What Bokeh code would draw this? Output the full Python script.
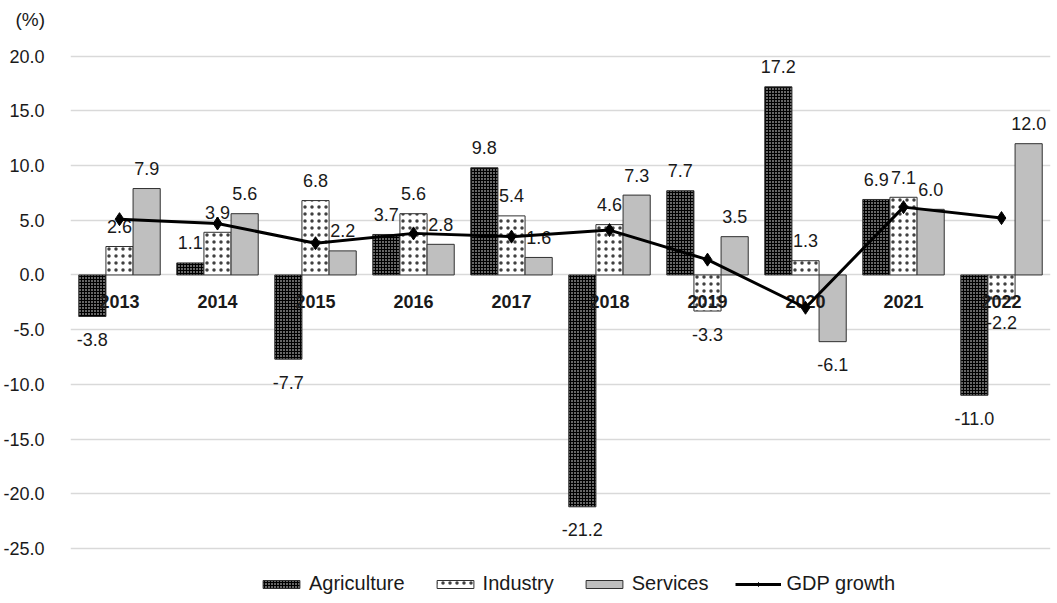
from bokeh.plotting import figure
from bokeh.models import (FactorRange, Range1d, ColumnDataSource, FixedTicker,
                          NumeralTickFormatter, Legend, LegendItem)
from bokeh.transform import dodge
from bokeh.core.properties import value
from bokeh.embed import file_html
from bokeh.resources import INLINE

years = ["2013", "2014", "2015", "2016", "2017", "2018", "2019", "2020", "2021", "2022"]
agriculture = [-3.8, 1.1, -7.7, 3.7, 9.8, -21.2, 7.7, 17.2, 6.9, -11.0]
industry = [2.6, 3.9, 6.8, 5.6, 5.4, 4.6, -3.3, 1.3, 7.1, -2.2]
services = [7.9, 5.6, 2.2, 2.8, 1.6, 7.3, 3.5, -6.1, 6.0, 12.0]
gdp_growth = [5.1, 4.7, 2.9, 3.8, 3.5, 4.1, 1.4, -3.0, 6.2, 5.2]
y_ticks = [-25, -20, -15, -10, -5, 0, 5, 10, 15, 20]

FONT = "Liberation Sans"
BW = 0.277


def fmt(v):
    return f"{v:.1f}"


def offs(vals):
    return [-20 if v >= 0 else 23 for v in vals]


src = ColumnDataSource(dict(
    year=years, agri=agriculture, ind=industry, serv=services, gdp=gdp_growth,
    agri_t=[fmt(v) for v in agriculture], ind_t=[fmt(v) for v in industry],
    serv_t=[fmt(v) for v in services],
    agri_o=offs(agriculture), ind_o=offs(industry), serv_o=offs(services),
    zero=[0] * len(years),
))

p = figure(width=1057, height=603, x_range=FactorRange(*years),
           y_range=Range1d(-30.04, 21.8), output_backend="svg", toolbar_location=None,
           min_border_left=70, min_border_right=7, min_border_top=0, min_border_bottom=0,
           outline_line_color=None, background_fill_color="white")

p.title.text = "(%)"
p.title.align = "left"
p.title.offset = -55
p.title.text_font = FONT
p.title.text_font_size = "19px"
p.title.text_font_style = "normal"
p.title.text_color = "#1a1a1a"
p.title.standoff = 13

p.xaxis.visible = False
p.xgrid.grid_line_color = None
p.ygrid.grid_line_color = "#d9d9d9"
p.ygrid.grid_line_width = 1.5
p.yaxis.ticker = FixedTicker(ticks=y_ticks)
p.yaxis.formatter = NumeralTickFormatter(format="0.0")
p.yaxis.axis_line_color = None
p.yaxis.major_tick_line_color = None
p.yaxis.minor_tick_line_color = None
p.yaxis.major_label_text_font = FONT
p.yaxis.major_label_text_font_size = "18px"
p.yaxis.major_label_text_color = "#1a1a1a"
p.yaxis.major_label_standoff = 20

r_agri = p.vbar(x=dodge("year", -BW, range=p.x_range), top="agri", width=BW, source=src,
                fill_color="black", line_color="#303030", line_width=1,
                hatch_pattern="dot", hatch_color="white", hatch_scale=3, hatch_weight=1.5)
r_ind = p.vbar(x=dodge("year", 0, range=p.x_range), top="ind", width=BW, source=src,
               fill_color="white", line_color="#303030", line_width=1,
               hatch_pattern="dot", hatch_color="black", hatch_scale=7, hatch_weight=1.0,
               hatch_alpha=0.75)
r_serv = p.vbar(x=dodge("year", BW, range=p.x_range), top="serv", width=BW, source=src,
                fill_color="#bfbfbf", line_color="#303030", line_width=1)

# year labels at the zero line
p.text(x="year", y="zero", text="year", source=src, text_align="center",
       text_baseline="middle", y_offset=27, text_font=value(FONT),
       text_font_size="18px", text_font_style="bold", text_color="#1a1a1a")

for col, off, dx in (("agri", "agri_o", -BW), ("ind", "ind_o", 0), ("serv", "serv_o", BW)):
    p.text(x=dodge("year", dx, range=p.x_range), y=col, text=col + "_t", source=src,
           text_align="center", text_baseline="middle", y_offset=off,
           text_font=value(FONT), text_font_size="18px", text_color="#1a1a1a")

r_line = p.line(x="year", y="gdp", source=src, line_color="black", line_width=3)
r_pts = p.scatter(x="year", y="gdp", source=src, marker="diamond", size=13,
                  fill_color="black", line_color="black")

legend = Legend(items=[
    LegendItem(label="Agriculture", renderers=[r_agri]),
    LegendItem(label="Industry", renderers=[r_ind]),
    LegendItem(label="Services", renderers=[r_serv]),
    LegendItem(label="GDP growth", renderers=[r_line, r_pts]),
], orientation="horizontal", location=(188, 8))
legend.label_text_font = FONT
legend.label_text_font_size = "20px"
legend.label_text_color = "#1a1a1a"
legend.glyph_width = 46
legend.glyph_height = 10
legend.label_standoff = 5
legend.spacing = 27
legend.padding = 0
legend.margin = 0
legend.border_line_color = None
legend.background_fill_alpha = 0
p.add_layout(legend, "center")

open("out.html", "w").write(file_html(p, INLINE))
